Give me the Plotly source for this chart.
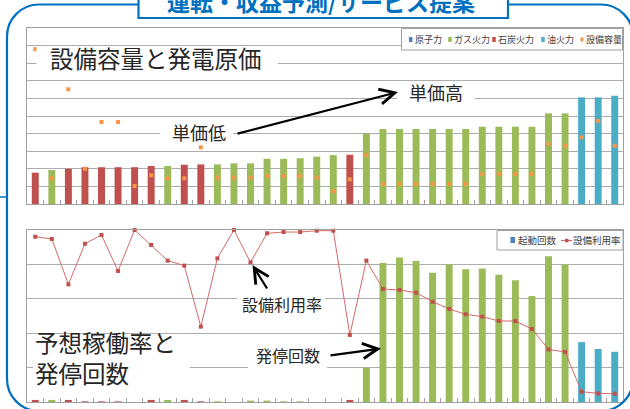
import plotly.graph_objects as go

W, H = 630, 409

# ---------------- data ----------------
categories = ["P01", "P02", "P03", "P04", "P05", "P06", "P07", "P08", "P09", "P10",
              "P11", "P12", "P13", "P14", "P15", "P16", "P17", "P18", "P19", "P20",
              "P21", "P22", "P23", "P24", "P25", "P26", "P27", "P28", "P29", "P30",
              "P31", "P32", "P33", "P34", "P35", "P36"]
plant_type = ["石炭火力", "ガス火力", "石炭火力", "石炭火力", "石炭火力", "石炭火力", "石炭火力",
              "石炭火力", "ガス火力", "石炭火力", "石炭火力", "ガス火力", "ガス火力", "ガス火力",
              "ガス火力", "ガス火力", "ガス火力", "ガス火力", "ガス火力", "石炭火力", "ガス火力",
              "ガス火力", "ガス火力", "ガス火力", "ガス火力", "ガス火力", "ガス火力", "ガス火力",
              "ガス火力", "ガス火力", "ガス火力", "ガス火力", "ガス火力", "油火力", "油火力", "油火力"]
# 発電原価 (bar height, top panel)
unit_cost = [1.78, 1.93, 2.00, 2.09, 2.09, 2.09, 2.09, 2.16, 2.16, 2.23, 2.25, 2.25,
             2.31, 2.31, 2.57, 2.57, 2.60, 2.69, 2.78, 2.80, 4.02, 4.26, 4.26, 4.26,
             4.26, 4.26, 4.26, 4.39, 4.39, 4.39, 4.39, 5.15, 5.15, 6.06, 6.06, 6.15]
# 設備容量 (orange markers, top panel)
capacity = [8.80, 1.46, 6.52, 2.00, 4.66, 4.66, 1.02, 1.63, 1.46, 1.46, 3.22, 1.50,
            1.50, 1.50, 1.59, 1.59, 1.59, 1.50, 0.74, 1.40, 2.78, 1.14, 1.14, 1.14,
            1.14, 1.14, 1.14, 1.70, 1.70, 1.70, 1.70, 3.41, 3.31, 3.79, 4.72, 3.31]
# 起動回数 (bars, bottom panel)
starts = [3, 3, 3, 1, 1, 1, 0, 3, 3, 3, 1, 1, 0, 2, 2, 1, 1, 0, 0, 3,
          50, 202, 210, 205, 188, 200, 193, 194, 185, 177, 154, 212, 200, 87, 77, 73]
# 設備利用率 (line, bottom panel, %)
utilization = [96.1, 94.8, 68.4, 92.0, 97.1, 76.2, 100.0, 91.3, 82.2, 79.3, 43.8, 83.5,
               100.0, 81.2, 98.1, 98.8, 98.8, 99.6, 99.6, 39.0, 82.2, 65.7, 65.1, 63.6,
               58.3, 54.1, 51.0, 49.6, 47.1, 47.1, 42.4, 30.6, 29.1, 6.0, 5.0, 4.8]

legend_top = ["原子力", "ガス火力", "石炭火力", "油火力", "設備容量"]
legend_bottom = ["起動回数", "設備利用率"]

type_colors = {"原子力": "#4F81BD", "ガス火力": "#9BBB59", "石炭火力": "#C0504D", "油火力": "#4BACC6"}
bar_colors = [type_colors[t] for t in plant_type]

FONT = "Noto Sans CJK JP"
GRID = "#ADADAD"
BORDER = "#A0A0A0"
BLUE = "#0070C0"


def X(px):
    return px / W


def Y(py):
    return 1 - py / H


fig = go.Figure()

fig.add_trace(go.Bar(x=categories, y=unit_cost, marker=dict(color=bar_colors, line=dict(width=0)),
                     width=0.42, xaxis="x", yaxis="y", showlegend=False))
fig.add_trace(go.Scatter(x=categories, y=capacity, mode="markers",
                         marker=dict(symbol="square", size=4, color="#F79646"),
                         xaxis="x", yaxis="y", showlegend=False, cliponaxis=False))
fig.add_trace(go.Bar(x=categories, y=starts, marker=dict(color=bar_colors, line=dict(width=0)),
                     width=0.42, xaxis="x2", yaxis="y2", showlegend=False))
fig.add_trace(go.Scatter(x=categories, y=utilization, mode="lines+markers",
                         line=dict(color="#D46A67", width=1),
                         marker=dict(symbol="square", size=4, color="#C0504D"),
                         xaxis="x2", yaxis="y3", showlegend=False, cliponaxis=False))

xcommon = dict(type="category", range=[-0.5, 35.5], showticklabels=False, ticks="inside",
               tickson="boundaries", ticklen=4, tickcolor=BORDER, showline=True, mirror=True,
               linecolor=BORDER, linewidth=1, showgrid=False, zeroline=False,
               domain=[X(27), X(623)])
fig.update_layout(
    xaxis=dict(anchor="y", **xcommon),
    yaxis=dict(domain=[Y(204), Y(28)], range=[0, 10], dtick=1, showgrid=True, gridcolor=GRID,
               gridwidth=1, showticklabels=False, ticks="", zeroline=False, showline=True,
               mirror=True, linecolor=BORDER),
    xaxis2=dict(anchor="y2", **xcommon),
    yaxis2=dict(domain=[Y(402), Y(230)], range=[0, 250], dtick=50, showgrid=True, gridcolor=GRID,
                gridwidth=1, showticklabels=False, ticks="", zeroline=False, showline=True,
                mirror=True, linecolor=BORDER),
    yaxis3=dict(overlaying="y2", range=[0, 100], showgrid=False, showticklabels=False,
                zeroline=False, showline=False, ticks=""),
)


def rounded_path(x0, y0, x1, y1, r):
    k = 0.5523 * r
    pts = [
        ("M", [(x0 + r, y0)]),
        ("L", [(x1 - r, y0)]),
        ("C", [(x1 - r + k, y0), (x1, y0 + r - k), (x1, y0 + r)]),
        ("L", [(x1, y1 - r)]),
        ("C", [(x1, y1 - r + k), (x1 - r + k, y1), (x1 - r, y1)]),
        ("L", [(x0 + r, y1)]),
        ("C", [(x0 + r - k, y1), (x0, y1 - r + k), (x0, y1 - r)]),
        ("L", [(x0, y0 + r)]),
        ("C", [(x0, y0 + r - k), (x0 + r - k, y0), (x0 + r, y0)]),
    ]
    s = ""
    for cmd, ps in pts:
        s += cmd + " " + " ".join(f"{X(a):.5f},{Y(b):.5f}" for a, b in ps) + " "
    return s + "Z"


shapes = []
# outer frame
shapes.append(dict(type="path", xref="paper", yref="paper", path=rounded_path(7, 4.5, 633, 411, 32),
                   line=dict(color=BLUE, width=2.2), fillcolor="rgba(0,0,0,0)", layer="above"))
# small connector stub on left
shapes.append(dict(type="line", xref="paper", yref="paper", x0=X(0), x1=X(6), y0=Y(197), y1=Y(197),
                   line=dict(color=BLUE, width=1.5), layer="above"))
# title box
shapes.append(dict(type="rect", xref="paper", yref="paper", x0=X(138.5), x1=X(508), y0=Y(-10), y1=Y(18),
                   line=dict(color=BLUE, width=2.2), fillcolor="white", layer="above"))


def white_box(x0, x1, y0, y1, line=None):
    shapes.append(dict(type="rect", xref="paper", yref="paper", x0=X(x0), x1=X(x1), y0=Y(y1), y1=Y(y0),
                       line=dict(color=line or "rgba(0,0,0,0)", width=1 if line else 0),
                       fillcolor="white", layer="above"))


white_box(36.5, 278, 47.5, 79)      # 設備容量と発電原価
white_box(160, 233, 124, 143)       # 単価低
white_box(397, 475, 85, 103)        # 単価高
white_box(237, 325, 293, 316)       # 設備利用率
white_box(248, 327, 341, 372)       # 発停回数
white_box(33, 190, 336, 386)        # 予想稼働率と発停回数
white_box(401.5, 622.5, 28.5, 50, line=BORDER)   # legend top
white_box(497, 623, 230.5, 250, line=BORDER)     # legend bottom

# legend swatches
top_sw_x = [410.7, 450, 494, 543, 582]
top_sw_col = ["#4F81BD", "#9BBB59", "#C0504D", "#4BACC6", "#F79646"]
for i, (sx, sc) in enumerate(zip(top_sw_x, top_sw_col)):
    w, h = (3.5, 5) if i < 4 else (3, 4)
    shapes.append(dict(type="rect", xref="paper", yref="paper", x0=X(sx - w / 2), x1=X(sx + w / 2),
                       y0=Y(39.5 + h / 2), y1=Y(39.5 - h / 2), line=dict(width=0), fillcolor=sc,
                       layer="above"))
shapes.append(dict(type="rect", xref="paper", yref="paper", x0=X(510.5), x1=X(515), y0=Y(243), y1=Y(237),
                   line=dict(width=0), fillcolor="#4F81BD", layer="above"))
shapes.append(dict(type="line", xref="paper", yref="paper", x0=X(561), x1=X(572), y0=Y(240.5), y1=Y(240.5),
                   line=dict(color="#D46A67", width=1), layer="above"))
shapes.append(dict(type="rect", xref="paper", yref="paper", x0=X(565), x1=X(568.5), y0=Y(242.3), y1=Y(238.8),
                   line=dict(width=0), fillcolor="#C0504D", layer="above"))

annotations = []


def text(t, cx, cy, size, color="#262626", bold=False, anchor="center", align="center"):
    annotations.append(dict(text=f"<b>{t}</b>" if bold else t, xref="paper", yref="paper",
                            x=X(cx), y=Y(cy), xanchor=anchor, yanchor="middle", showarrow=False,
                            align=align, font=dict(family=FONT, size=size, color=color), borderpad=0))


def arrow(tipx, tipy, tailx, taily):
    annotations.append(dict(text="", xref="paper", yref="paper", x=X(tipx), y=Y(tipy),
                            ax=tailx - tipx, ay=taily - tipy, axref="pixel", ayref="pixel",
                            showarrow=True, arrowhead=5, arrowsize=1.35, arrowwidth=2.2,
                            arrowcolor="black", standoff=0, startstandoff=0))


text("運転・収益予測/サービス提案", 321, 1.5, 23, color=BLUE, bold=True)
text("設備容量と発電原価", 155.5, 58, 23.5)
text("単価低", 198.5, 132, 18)
text("単価高", 436, 92.5, 18)
text("設備利用率", 281.5, 304, 16)
text("発停回数", 287.5, 355, 16)
text("予想稼働率と<br>発停回数", 34, 357, 23.5, anchor="left", align="left")

# legend labels
top_lab_x = [413.5, 452.5, 497, 546, 585]
for lab, lx in zip(legend_top, top_lab_x):
    text(lab, lx, 39.5, 9, color="#404040", anchor="left")
text(legend_bottom[0], 517, 240, 9.5, color="#404040", anchor="left")
text(legend_bottom[1], 572, 240, 9.5, color="#404040", anchor="left")

arrow(398, 92, 236, 134)
arrow(252.5, 265, 268, 290)
arrow(381, 348.5, 329, 355.5)

fig.update_layout(width=W, height=H, autosize=False, margin=dict(l=0, r=0, t=0, b=0),
                  paper_bgcolor="white", plot_bgcolor="white", shapes=shapes,
                  annotations=annotations, font=dict(family=FONT), showlegend=False,
                  bargap=0.5)

fig.write_html("out.html", config={"displayModeBar": False, "staticPlot": True},
               post_script="document.body.style.margin='0';document.body.style.overflow='hidden';")
